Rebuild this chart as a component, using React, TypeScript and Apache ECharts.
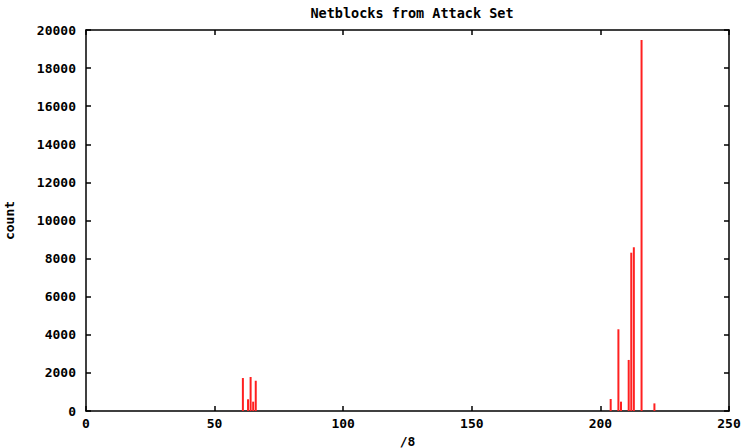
import React, { useEffect, useRef } from "react";
import * as echarts from "echarts";

const netblocks = [61, 63, 64, 65, 66, 204, 207, 208, 211, 212, 213, 216, 221];
const counts = [1730, 615, 1785, 490, 1590, 630, 4290, 490, 2680, 8310, 8595, 19480, 400];
const titleText = "Netblocks from Attack Set";
const xName = "/8";
const yName = "count";

const FONT = "'DejaVu Sans Mono', 'Liberation Mono', monospace";

export default function App() {
  const ref = useRef<HTMLDivElement>(null);
  useEffect(() => {
    if (!ref.current) return;
    const chart = echarts.init(ref.current, undefined, { renderer: "svg" });
    const lineStyle = { color: "#000", width: 1.5 };
    const tick = { show: true, inside: true, length: 5, lineStyle: { color: "#000", width: 1.5 } };
    const labelStyle = { color: "#000", fontFamily: FONT, fontWeight: "bold" as const, fontSize: 13 };
    const fmt = (v: number) => String(v);
    chart.setOption({
      animation: false,
      backgroundColor: "#fff",
      title: {
        text: titleText,
        left: 407,
        textAlign: "center",
        top: 1,
        textStyle: { ...labelStyle, fontSize: 13.5 },
      },
      grid: { left: 86, right: 18, top: 30, bottom: 37, containLabel: false, outerBoundsMode: "none" },
      xAxis: [
        {
          type: "value",
          min: 0,
          max: 250,
          interval: 50,
          position: "bottom",
          name: xName,
          nameLocation: "middle",
          nameGap: 22,
          nameTextStyle: labelStyle,
          axisLine: { show: true, onZero: false, lineStyle },
          axisTick: tick,
          axisLabel: { ...labelStyle, margin: 6, formatter: fmt },
          splitLine: { show: false },
        },
        {
          type: "value",
          min: 0,
          max: 250,
          interval: 50,
          position: "top",
          axisLine: { show: true, onZero: false, lineStyle },
          axisTick: tick,
          axisLabel: { show: false },
          splitLine: { show: false },
        },
      ],
      yAxis: [
        {
          type: "value",
          min: 0,
          max: 20000,
          interval: 2000,
          position: "left",
          name: yName,
          nameLocation: "middle",
          nameRotate: 90,
          nameGap: 70,
          nameTextStyle: labelStyle,
          axisLine: { show: true, onZero: false, lineStyle },
          axisTick: tick,
          axisLabel: { ...labelStyle, margin: 10, formatter: fmt },
          splitLine: { show: false },
        },
        {
          type: "value",
          min: 0,
          max: 20000,
          interval: 2000,
          position: "right",
          axisLine: { show: true, onZero: false, lineStyle },
          axisTick: tick,
          axisLabel: { show: false },
          splitLine: { show: false },
        },
      ],
      series: [
        {
          type: "bar",
          xAxisIndex: 0,
          yAxisIndex: 0,
          barWidth: 2,
          itemStyle: { color: "#ff2020" },
          data: netblocks.map((x, i) => [x, counts[i]]),
        },
      ],
    });
    return () => chart.dispose();
  }, []);
  return <div ref={ref} style={{ width: 747, height: 448, position: "absolute", left: 0, top: 0 }} />;
}
